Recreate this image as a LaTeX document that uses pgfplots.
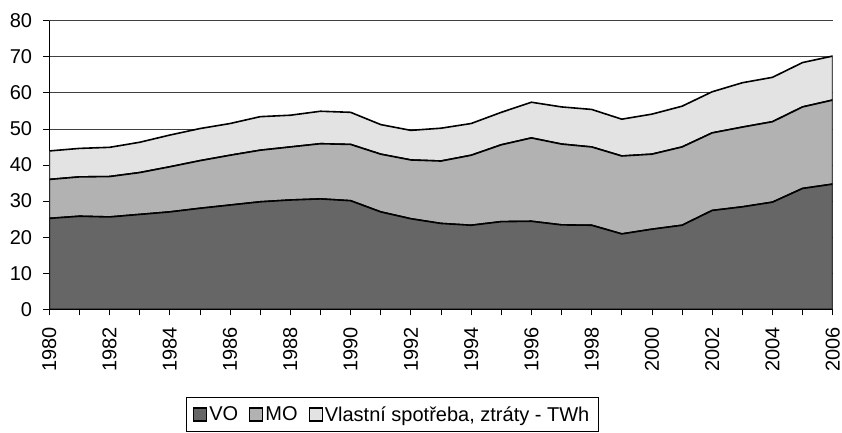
\documentclass[border=0pt]{standalone}
\usepackage{fontspec}
\setmainfont{Liberation Sans}
\usepackage{pgfplots}
\pgfplotsset{compat=1.18}
\definecolor{voc}{HTML}{666666}
\definecolor{moc}{HTML}{B2B2B2}
\definecolor{vsc}{HTML}{E3E3E3}
\begin{document}
\begin{tikzpicture}
\path[use as bounding box] (-49.3pt,-123.7pt) rectangle (792.7pt,309.3pt);
\begin{axis}[
  at={(0,0)}, anchor=south west,
  scale only axis, width=783.4pt, height=288.6pt,
  xmin=1980, xmax=2006, ymin=0, ymax=80,
  stack plots=y,
  axis x line*=bottom, axis y line*=left,
  axis line style={black, line width=1pt},
  xtick={1980,1982,...,2006},
  minor xtick={1981,1983,...,2005},
  ytick={0,10,...,80},
  tick align=outside,
  major tick length=6pt, minor tick length=6pt,
  every tick/.style={black, line width=0.8pt},
  every minor tick/.style={black, line width=0.8pt},
  ymajorgrids,
  grid style={draw=black!75, line width=0.8pt},
  /pgf/number format/assume math mode=true,
  /pgf/number format/1000 sep={},
  tick label style={font=\fontsize{20}{24}\selectfont},
  xticklabel style={rotate=90, anchor=east, inner xsep=11.5pt, inner ysep=0pt},
  yticklabel style={inner xsep=11pt},
  legend columns=3,
  legend style={at={(axis description cs:0.1741,-0.304)}, anchor=north west,
    draw=black, line width=0.8pt, font=\fontsize{20}{24}\selectfont,
    inner xsep=7pt, inner ysep=6pt,
    nodes={inner xsep=2pt, inner ysep=3pt},
    /tikz/every even column/.append style={column sep=9pt}},
  legend cell align=left,
  legend image code/.code={\draw[#1, line width=1.2pt, draw=black] (0pt,-6.5pt) rectangle (13pt,6.5pt);},
]
\addplot[fill=voc, draw=black, line width=1.6pt] coordinates {
(1980,25.2)(1981,25.8)(1982,25.6)(1983,26.3)(1984,27.0)(1985,28.0)(1986,28.9)(1987,29.8)(1988,30.3)(1989,30.6)(1990,30.1)(1991,27.0)(1992,25.1)(1993,23.8)(1994,23.3)(1995,24.3)(1996,24.4)(1997,23.4)(1998,23.3)(1999,20.9)(2000,22.2)(2001,23.3)(2002,27.4)(2003,28.4)(2004,29.7)(2005,33.5)(2006,34.7)
} \closedcycle;
\addlegendentry{VO}
\addplot[fill=moc, draw=black, line width=1.6pt] coordinates {
(1980,10.8)(1981,10.9)(1982,11.2)(1983,11.6)(1984,12.5)(1985,13.2)(1986,13.8)(1987,14.3)(1988,14.7)(1989,15.3)(1990,15.6)(1991,16.0)(1992,16.3)(1993,17.3)(1994,19.4)(1995,21.3)(1996,23.1)(1997,22.4)(1998,21.7)(1999,21.6)(2000,20.8)(2001,21.7)(2002,21.5)(2003,22.1)(2004,22.3)(2005,22.6)(2006,23.3)
} \closedcycle;
\addlegendentry{MO}
\addplot[fill=vsc, draw=black, line width=1.6pt] coordinates {
(1980,7.9)(1981,7.9)(1982,8.1)(1983,8.4)(1984,8.8)(1985,8.9)(1986,8.8)(1987,9.3)(1988,8.8)(1989,9.0)(1990,8.9)(1991,8.2)(1992,8.2)(1993,9.1)(1994,8.8)(1995,9.0)(1996,9.9)(1997,10.3)(1998,10.4)(1999,10.2)(2000,11.1)(2001,11.3)(2002,11.4)(2003,12.3)(2004,12.3)(2005,12.3)(2006,12.2)
} \closedcycle;
\addlegendentry{Vlastní spotřeba, ztráty - TWh}
\end{axis}
\end{tikzpicture}
\end{document}
